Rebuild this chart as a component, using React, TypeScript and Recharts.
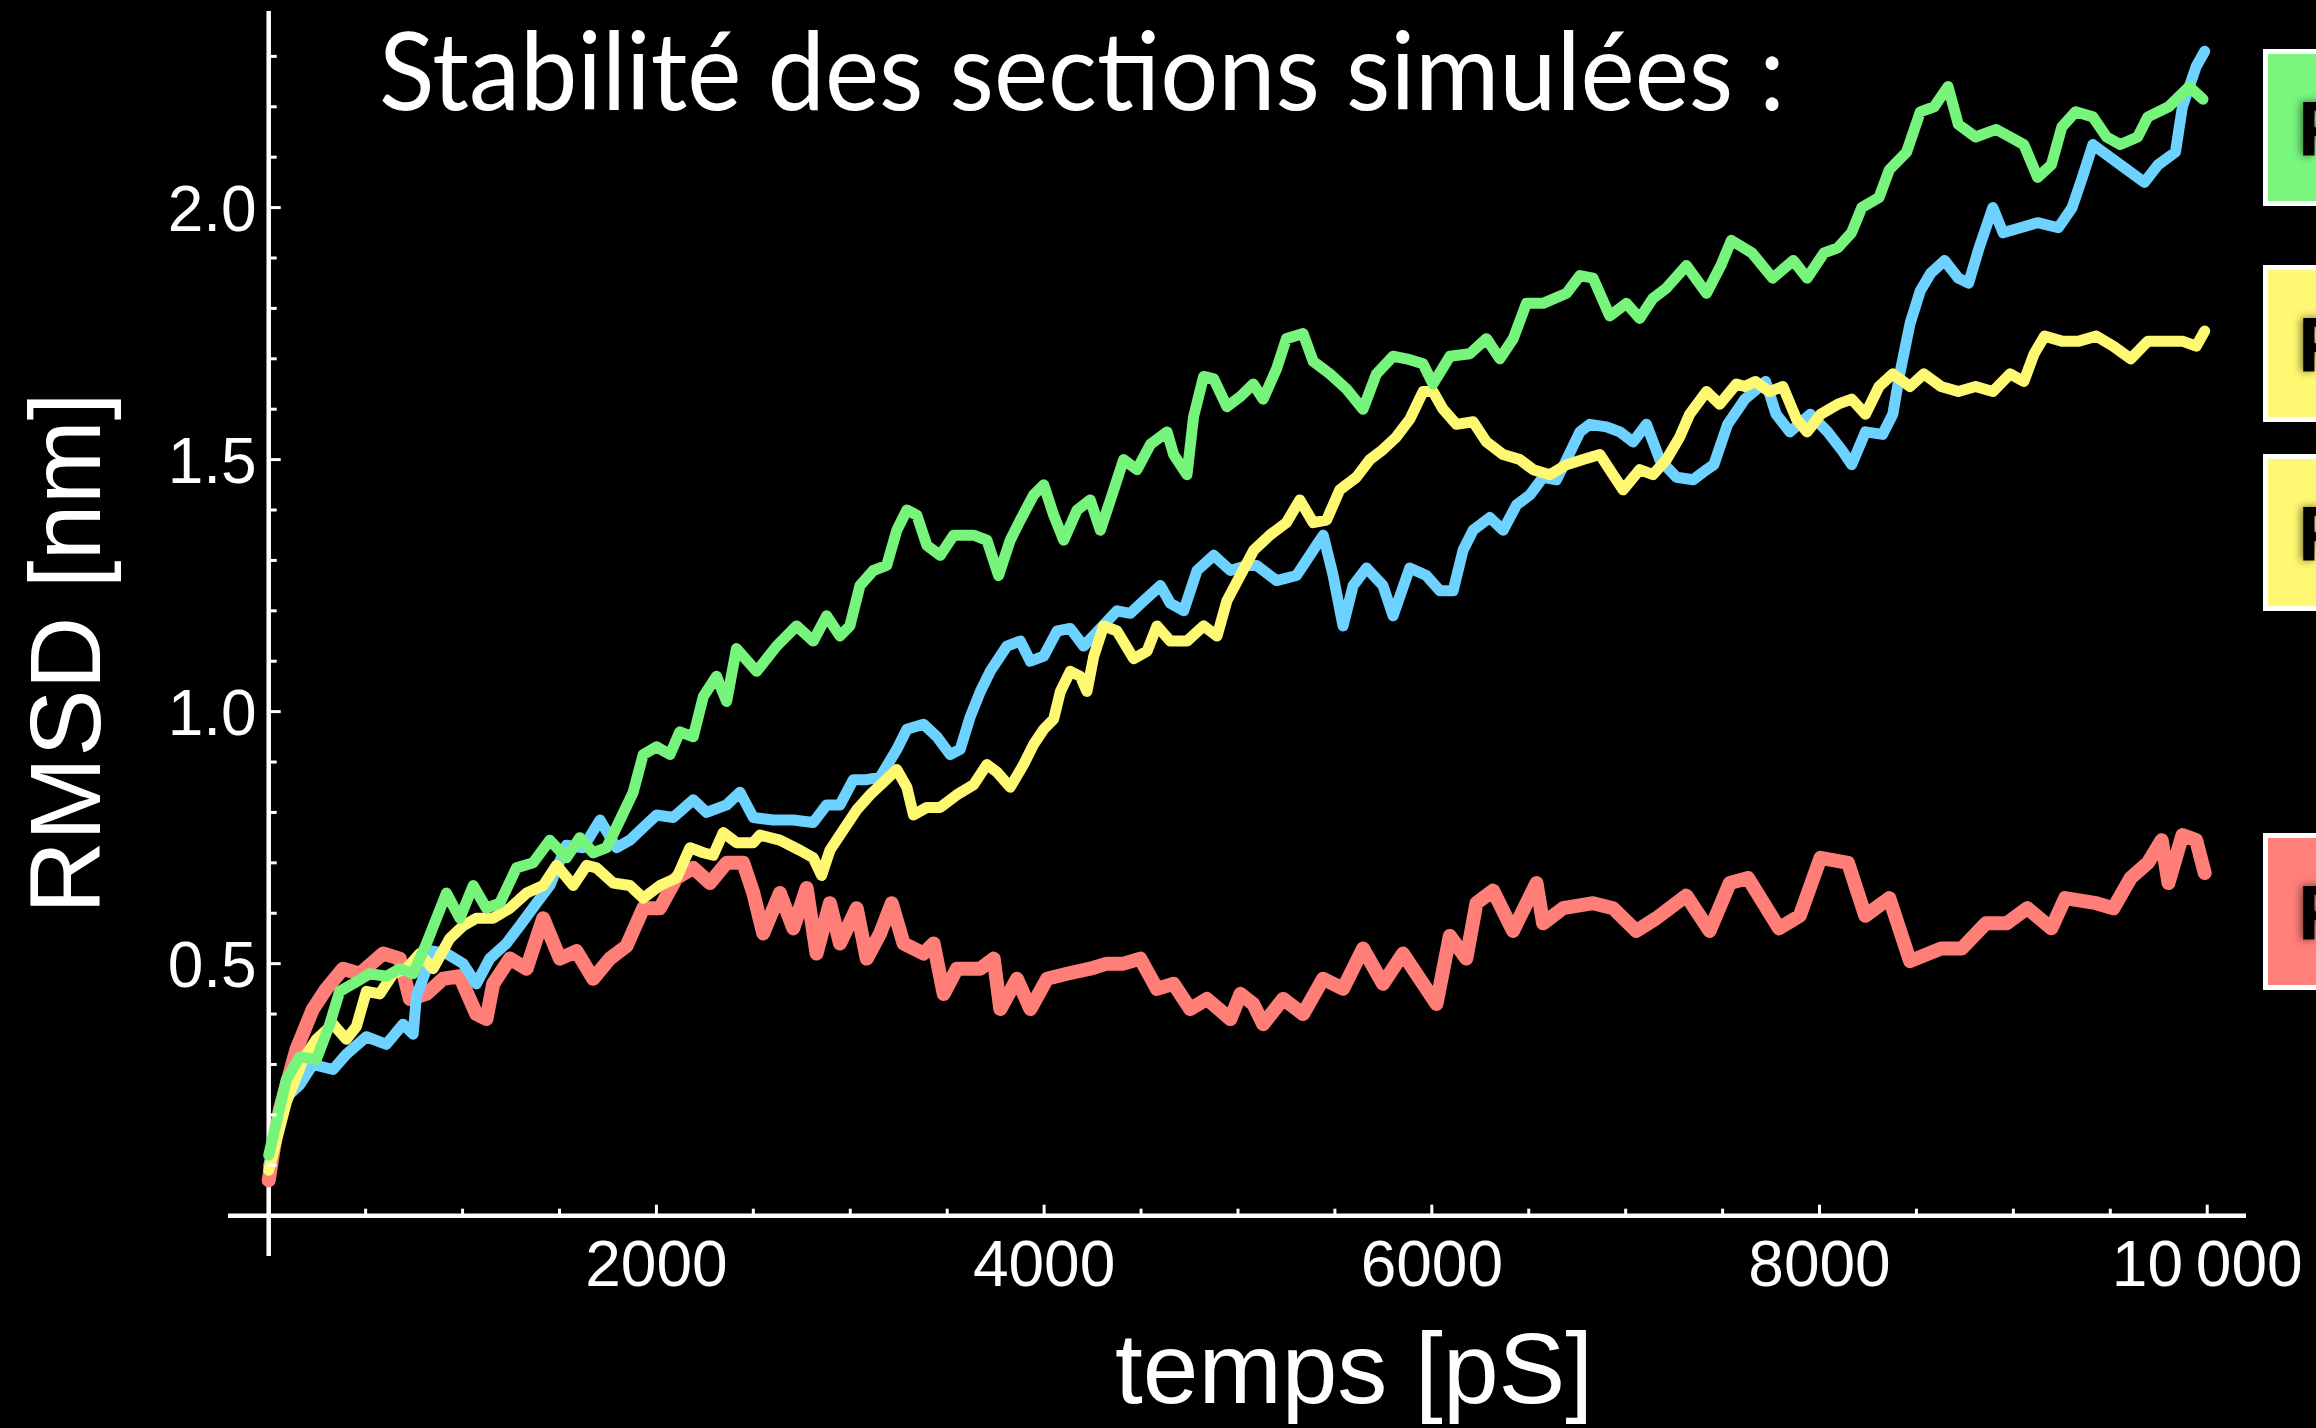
import React from 'react';
import { LineChart, Line, XAxis, YAxis, ReferenceLine } from 'recharts';

// ---- data: [time (ps), RMSD (nm)] ----
const redSeries: number[][] = [
  [0,0.07],[57,0.21],[143,0.33],[228,0.41],[297,0.45],[383,0.49],[470,0.48],[590,0.52],[676,0.51],[728,0.43],
  [814,0.44],[900,0.47],[985,0.475],[1071,0.40],[1123,0.39],[1158,0.46],[1244,0.51],[1330,0.49],[1416,0.59],[1502,0.51],
  [1588,0.525],[1674,0.47],[1760,0.51],[1846,0.535],[1932,0.61],[2018,0.61],[2104,0.67],[2190,0.69],[2276,0.66],[2362,0.70],
  [2448,0.70],[2500,0.64],[2551,0.56],[2637,0.64],[2706,0.57],[2775,0.65],[2826,0.52],[2895,0.62],[2947,0.54],[3033,0.61],
  [3085,0.51],[3154,0.56],[3214,0.62],[3275,0.54],[3378,0.52],[3430,0.54],[3482,0.44],[3550,0.49],[3671,0.49],[3740,0.51],
  [3774,0.41],[3860,0.47],[3929,0.41],[4015,0.47],[4118,0.48],[4238,0.49],[4324,0.50],[4410,0.50],[4496,0.51],[4582,0.45],
  [4668,0.46],[4754,0.41],[4840,0.43],[4961,0.39],[5013,0.44],[5079,0.42],[5130,0.38],[5233,0.43],[5336,0.40],[5439,0.47],
  [5542,0.45],[5645,0.53],[5748,0.46],[5851,0.52],[5955,0.46],[6024,0.42],[6093,0.555],[6178,0.51],[6230,0.62],[6316,0.645],
  [6419,0.565],[6540,0.66],[6574,0.58],[6677,0.61],[6832,0.62],[6935,0.61],[7055,0.565],[7158,0.59],[7313,0.635],[7433,0.565],
  [7537,0.66],[7631,0.67],[7791,0.57],[7898,0.595],[8005,0.71],[8147,0.70],[8236,0.595],[8360,0.63],[8467,0.505],[8627,0.53],
  [8734,0.53],[8858,0.58],[8965,0.58],[9072,0.61],[9196,0.57],[9267,0.63],[9427,0.62],[9516,0.61],[9605,0.67],[9694,0.70],
  [9765,0.745],[9800,0.66],[9872,0.755],[9943,0.745],[9987,0.68],
];

const greenSeries: number[][] = [
  [0,0.12],[91,0.27],[160,0.315],[246,0.31],[315,0.38],[366,0.445],[435,0.46],[521,0.48],[607,0.475],[676,0.49],
  [745,0.48],[814,0.54],[917,0.64],[986,0.59],[1055,0.655],[1123,0.61],[1192,0.62],[1278,0.69],[1364,0.70],[1450,0.745],
  [1536,0.71],[1605,0.75],[1674,0.72],[1743,0.73],[1812,0.785],[1880,0.84],[1932,0.915],[2001,0.93],[2070,0.915],[2121,0.96],
  [2190,0.95],[2242,1.03],[2310,1.07],[2362,1.02],[2413,1.125],[2517,1.08],[2620,1.13],[2723,1.17],[2809,1.14],[2878,1.19],
  [2947,1.15],[2998,1.17],[3050,1.25],[3119,1.28],[3188,1.29],[3240,1.36],[3292,1.40],[3343,1.39],[3395,1.33],[3464,1.31],
  [3533,1.35],[3636,1.35],[3705,1.34],[3765,1.27],[3825,1.34],[3877,1.38],[3946,1.43],[3998,1.45],[4049,1.39],[4101,1.34],
  [4170,1.40],[4238,1.42],[4290,1.36],[4342,1.42],[4410,1.50],[4479,1.48],[4548,1.53],[4634,1.555],[4668,1.51],[4737,1.47],
  [4771,1.585],[4823,1.665],[4875,1.66],[4943,1.605],[5012,1.625],[5079,1.65],[5130,1.62],[5199,1.68],[5250,1.74],[5336,1.75],
  [5388,1.695],[5474,1.67],[5560,1.64],[5645,1.60],[5714,1.67],[5800,1.705],[5869,1.70],[5955,1.69],[6006,1.65],[6093,1.705],
  [6196,1.71],[6282,1.74],[6351,1.70],[6420,1.74],[6488,1.81],[6574,1.81],[6695,1.83],[6764,1.865],[6832,1.86],[6918,1.785],
  [7004,1.81],[7072,1.78],[7141,1.82],[7210,1.84],[7313,1.885],[7417,1.83],[7491,1.885],[7545,1.935],[7652,1.91],[7758,1.86],
  [7865,1.895],[7936,1.86],[8023,1.91],[8094,1.92],[8165,1.95],[8218,2.0],[8307,2.02],[8360,2.075],[8449,2.11],[8520,2.19],
  [8591,2.20],[8663,2.24],[8716,2.165],[8805,2.14],[8912,2.155],[8983,2.14],[9054,2.125],[9125,2.06],[9196,2.085],[9250,2.16],
  [9321,2.19],[9410,2.18],[9481,2.14],[9552,2.125],[9641,2.14],[9694,2.18],[9801,2.20],[9907,2.24],[9978,2.215],
];

const blueSeries: number[][] = [
  [0,0.10],[91,0.235],[160,0.26],[228,0.30],[332,0.29],[400,0.32],[504,0.355],[607,0.34],[693,0.38],[745,0.36],
  [762,0.435],[848,0.525],[917,0.52],[1003,0.50],[1071,0.46],[1140,0.51],[1226,0.54],[1295,0.575],[1381,0.62],[1450,0.655],
  [1536,0.735],[1622,0.73],[1709,0.785],[1794,0.73],[1863,0.745],[1932,0.77],[2001,0.795],[2087,0.79],[2190,0.825],[2259,0.80],
  [2362,0.815],[2431,0.84],[2500,0.79],[2602,0.785],[2706,0.785],[2809,0.78],[2878,0.815],[2947,0.815],[3016,0.865],[3085,0.865],
  [3154,0.87],[3240,0.925],[3292,0.965],[3378,0.975],[3447,0.95],[3515,0.915],[3567,0.925],[3619,0.99],[3671,1.04],[3722,1.08],
  [3808,1.13],[3877,1.14],[3929,1.10],[3998,1.11],[4067,1.16],[4135,1.165],[4204,1.13],[4290,1.165],[4376,1.20],[4445,1.195],
  [4514,1.22],[4600,1.25],[4651,1.215],[4720,1.20],[4789,1.28],[4875,1.31],[4961,1.28],[5047,1.29],[5096,1.29],[5199,1.26],
  [5302,1.27],[5405,1.33],[5440,1.35],[5491,1.27],[5542,1.17],[5594,1.25],[5663,1.285],[5748,1.25],[5800,1.19],[5886,1.285],
  [5972,1.27],[6041,1.24],[6110,1.24],[6161,1.32],[6213,1.36],[6299,1.385],[6368,1.36],[6437,1.41],[6506,1.43],[6574,1.465],
  [6643,1.46],[6695,1.50],[6764,1.555],[6815,1.57],[6901,1.565],[6970,1.555],[7038,1.535],[7107,1.57],[7176,1.50],[7262,1.465],
  [7348,1.46],[7417,1.48],[7455,1.49],[7526,1.57],[7615,1.62],[7722,1.655],[7776,1.59],[7847,1.555],[7953,1.59],[8042,1.555],
  [8113,1.52],[8166,1.49],[8237,1.555],[8325,1.55],[8378,1.59],[8414,1.67],[8467,1.77],[8520,1.835],[8574,1.87],[8645,1.895],
  [8716,1.86],[8769,1.85],[8823,1.92],[8894,2.0],[8947,1.95],[9036,1.96],[9125,1.97],[9232,1.96],[9303,2.0],[9356,2.06],
  [9410,2.125],[9498,2.10],[9587,2.075],[9676,2.05],[9747,2.085],[9836,2.11],[9872,2.20],[9943,2.28],[9987,2.31],
];

const yellowSeries: number[][] = [
  [0,0.09],[91,0.225],[177,0.31],[246,0.35],[332,0.38],[400,0.35],[452,0.375],[504,0.445],[573,0.44],[642,0.48],
  [710,0.49],[779,0.52],[848,0.49],[934,0.55],[1003,0.575],[1071,0.59],[1157,0.59],[1244,0.61],[1330,0.64],[1416,0.655],
  [1485,0.695],[1571,0.655],[1640,0.695],[1691,0.69],[1777,0.66],[1863,0.655],[1932,0.63],[2018,0.655],[2104,0.67],[2173,0.73],
  [2242,0.72],[2293,0.715],[2345,0.76],[2413,0.74],[2500,0.74],[2534,0.755],[2637,0.745],[2740,0.725],[2809,0.71],[2852,0.675],
  [2895,0.725],[2964,0.765],[3033,0.805],[3102,0.835],[3171,0.86],[3240,0.885],[3292,0.85],[3326,0.795],[3395,0.81],[3464,0.81],
  [3550,0.835],[3636,0.855],[3705,0.895],[3757,0.88],[3825,0.85],[3894,0.895],[3946,0.935],[3998,0.965],[4049,0.985],[4084,1.04],
  [4135,1.08],[4187,1.07],[4221,1.04],[4256,1.11],[4307,1.17],[4376,1.16],[4462,1.105],[4531,1.12],[4582,1.17],[4651,1.14],
  [4737,1.14],[4823,1.17],[4892,1.15],[4943,1.22],[5012,1.27],[5081,1.32],[5164,1.35],[5250,1.375],[5319,1.42],[5388,1.375],
  [5457,1.38],[5525,1.44],[5611,1.465],[5680,1.50],[5748,1.52],[5817,1.545],[5886,1.58],[5955,1.635],[6006,1.635],[6058,1.60],
  [6127,1.57],[6213,1.575],[6282,1.535],[6368,1.51],[6454,1.50],[6523,1.48],[6609,1.47],[6695,1.49],[6780,1.50],[6867,1.51],
  [6935,1.47],[6987,1.44],[7072,1.48],[7141,1.47],[7210,1.50],[7279,1.545],[7330,1.59],[7417,1.635],[7485,1.61],[7571,1.65],
  [7615,1.645],[7669,1.655],[7740,1.635],[7811,1.645],[7882,1.58],[7936,1.555],[8006,1.59],[8095,1.61],[8166,1.62],[8237,1.59],
  [8307,1.645],[8378,1.67],[8467,1.645],[8538,1.67],[8627,1.645],[8716,1.635],[8805,1.645],[8894,1.635],[8983,1.67],[9054,1.655],
  [9107,1.71],[9161,1.745],[9250,1.735],[9338,1.735],[9427,1.745],[9516,1.725],[9605,1.70],[9694,1.735],[9765,1.735],[9872,1.735],
  [9943,1.725],[9987,1.755],
];

// ---- ticks / labels ----
const xTicks = [500,1000,1500,2000,2500,3000,3500,4000,4500,5000,5500,6000,6500,7000,7500,8000,8500,9000,9500,10000];
const xMajorTicks = [2000,4000,6000,8000,10000];
const xMajorLabels = ['2000','4000','6000','8000','10\u2009000'];
const yTicks = [0.1,0.2,0.3,0.4,0.5,0.6,0.7,0.8,0.9,1.0,1.1,1.2,1.3,1.4,1.5,1.6,1.7,1.8,1.9,2.0,2.1,2.2,2.3];
const yMajorTicks = [0.5,1.0,1.5,2.0];
const yMajorLabels = ['0.5','1.0','1.5','2.0'];

const titleText = 'Stabilité des sections simulées :';
const xAxisTitle = 'temps [pS]';
const yAxisTitle = 'RMSD [nm]';
const legendLabels = ['F','F','F','F'];
const legendColors = ['#79F67D','#FFF872','#FFF872','#FF7F7A'];

const COLORS = { red: '#FF7E78', green: '#76F47B', blue: '#6DD2FF', yellow: '#FFF872' };

// ---- layout ----
const W = 2316;
const H = 1428;
const MARGIN = { top: 11, right: 70, bottom: 171, left: 227 };
const AXIS_W = 1;
const X_MIN = -210, X_MAX = 10200, Y_MIN = -0.08, Y_MAX = 2.39;
const plotL = MARGIN.left + AXIS_W;
const plotW = W - plotL - MARGIN.right;
const plotH = H - MARGIN.top - MARGIN.bottom - AXIS_W;
const originX = plotL + plotW * (0 - X_MIN) / (X_MAX - X_MIN);
const originY = MARGIN.top + plotH * (Y_MAX - 0) / (Y_MAX - Y_MIN);
const LEGEND_TOPS = [49, 265, 454, 833];
const LEGEND_X = 2263;
const LEGEND_H = 157;
const LEGEND_BORDER = 5;

const toRows = (s: number[][]) => s.map(([t, v]) => ({ t, v }));
const redData = toRows(redSeries);
const greenData = toRows(greenSeries);
const blueData = toRows(blueSeries);
const yellowData = toRows(yellowSeries);

const TICK_FONT = '"Liberation Sans", Arial, Helvetica, sans-serif';

const XTick = (props: any) => {
  const { x, payload } = props;
  const idx = xMajorTicks.indexOf(payload.value);
  const major = idx >= 0;
  return (
    <g>
      <line x1={x} x2={x} y1={originY} y2={originY - (major ? 11 : 7)} stroke="#fff" strokeWidth={3} />
      {major && (
        <text x={x} y={originY + 70} textAnchor="middle" fill="#fff" fontSize={64} fontFamily={TICK_FONT}>
          {xMajorLabels[idx]}
        </text>
      )}
    </g>
  );
};

const YTick = (props: any) => {
  const { y, payload } = props;
  const idx = yMajorTicks.findIndex((m) => Math.abs(m - payload.value) < 1e-6);
  const major = idx >= 0;
  return (
    <g>
      <line x1={originX} x2={originX + (major ? 12 : 8)} y1={y} y2={y} stroke="#fff" strokeWidth={3} />
      {major && (
        <text x={originX - 12} y={y + 23} textAnchor="end" fill="#fff" fontSize={64} fontFamily={TICK_FONT}>
          {yMajorLabels[idx]}
        </text>
      )}
    </g>
  );
};

const XTitle = () => (
  <text x={1354} y={1403} textAnchor="middle" fill="#fff" fontSize={100} fontFamily={TICK_FONT}>
    {xAxisTitle}
  </text>
);

const YTitle = () => (
  <text x={100} y={653} textAnchor="middle" fill="#fff" fontSize={101} fontFamily={TICK_FONT}
    transform="rotate(-90, 100, 653)">
    {yAxisTitle}
  </text>
);

const lineCommon = {
  type: 'linear' as const,
  dataKey: 'v',
  dot: false,
  strokeLinejoin: 'round' as const,
  strokeLinecap: 'round' as const,
  isAnimationActive: false,
};

export default function App() {
  return (
    <div style={{ position: 'absolute', left: 0, top: 0, width: W, height: H, background: '#000', overflow: 'hidden' }}>
      <LineChart width={W} height={H} margin={MARGIN}>
        <XAxis
          type="number"
          dataKey="t"
          domain={[X_MIN, X_MAX]}
          allowDataOverflow
          ticks={xTicks}
          interval={0}
          height={AXIS_W}
          axisLine={false}
          tickLine={false}
          tick={<XTick />}
          label={<XTitle />}
        />
        <YAxis
          type="number"
          dataKey="v"
          domain={[Y_MIN, Y_MAX]}
          allowDataOverflow
          ticks={yTicks}
          interval={0}
          width={AXIS_W}
          axisLine={false}
          tickLine={false}
          tick={<YTick />}
          label={<YTitle />}
        />
        <ReferenceLine x={0} stroke="#fff" strokeWidth={4.5} />
        <ReferenceLine y={0} stroke="#fff" strokeWidth={4.5} />
        <Line {...lineCommon} data={redData} stroke={COLORS.red} strokeWidth={14} />
        <Line {...lineCommon} data={blueData} stroke={COLORS.blue} strokeWidth={11} />
        <Line {...lineCommon} data={yellowData} stroke={COLORS.yellow} strokeWidth={11} />
        <Line {...lineCommon} data={greenData} stroke={COLORS.green} strokeWidth={11} />
      </LineChart>
      <svg width={W} height={H} style={{ position: 'absolute', left: 0, top: 0, pointerEvents: 'none' }}>
        <defs>
          <filter id="fshadow" x="-50%" y="-50%" width="200%" height="200%">
            <feGaussianBlur stdDeviation="4" />
          </filter>
        </defs>
        <text x={379} y={110} fill="#fff" fontSize={108} fontFamily='Lato, "Open Sans", sans-serif'
          textLength={1406} lengthAdjust="spacingAndGlyphs">
          {titleText}
        </text>
        {LEGEND_TOPS.map((top, i) => (
          <g key={i}>
            <rect
              x={LEGEND_X + LEGEND_BORDER / 2}
              y={top + LEGEND_BORDER / 2}
              width={120}
              height={LEGEND_H - LEGEND_BORDER}
              fill={legendColors[i]}
              stroke="#fff"
              strokeWidth={LEGEND_BORDER}
            />
            <text x={2296} y={top + 107} fontSize={78} fontWeight={700} fontFamily={TICK_FONT}
              fill="rgba(0,0,0,0.55)" filter="url(#fshadow)">
              {legendLabels[i]}
            </text>
            <text x={2298} y={top + 107} fontSize={78} fontWeight={700} fontFamily={TICK_FONT} fill="#000">
              {legendLabels[i]}
            </text>
          </g>
        ))}
      </svg>
    </div>
  );
}
